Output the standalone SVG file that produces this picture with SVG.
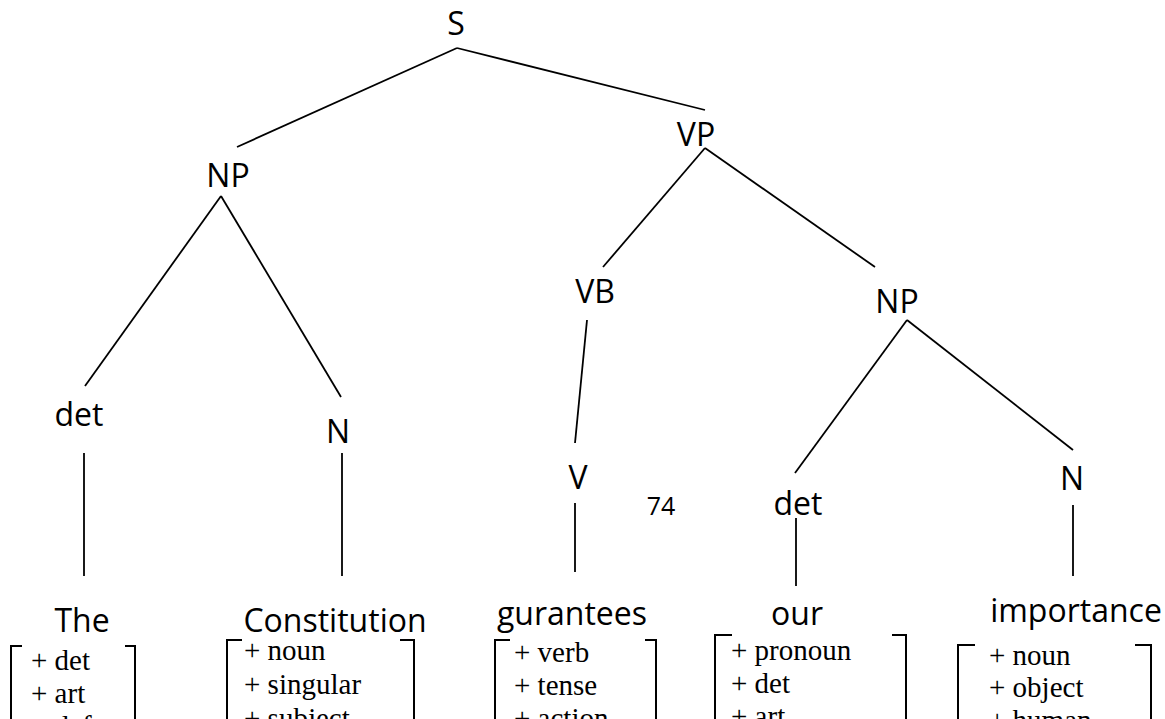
<svg xmlns="http://www.w3.org/2000/svg" width="1165" height="719" viewBox="0 0 1165 719">
  <style>
    .lbl { font-family: "Open Sans", "Noto Sans", sans-serif; font-size: 32px; fill: #000; text-anchor: middle; }
    .num { font-family: "Open Sans", "Noto Sans", sans-serif; font-size: 25px; fill: #000; text-anchor: middle; }
    .feat { font-family: "Liberation Serif", "Times New Roman", serif; font-size: 29px; fill: #000; }
    .edge { stroke: #000; stroke-width: 1.8; fill: none; }
    .brk { stroke: #000; stroke-width: 2; fill: none; }
  </style>
  <rect width="1165" height="719" fill="#fff"/>

  <!-- tree branches -->
  <g id="connectors">
    <line class="edge" x1="457" y1="48" x2="237" y2="147"/>
    <line class="edge" x1="457" y1="48" x2="705" y2="110"/>
    <line class="edge" x1="221" y1="196" x2="85" y2="386"/>
    <line class="edge" x1="221" y1="196" x2="341" y2="397"/>
    <line class="edge" x1="705" y1="148" x2="603" y2="267"/>
    <line class="edge" x1="705" y1="148" x2="875" y2="267"/>
    <line class="edge" x1="587" y1="320" x2="575" y2="443"/>
    <line class="edge" x1="907" y1="320" x2="795" y2="473"/>
    <line class="edge" x1="907" y1="320" x2="1073" y2="450"/>
    <line class="edge" x1="84" y1="453" x2="84" y2="576"/>
    <line class="edge" x1="342" y1="453" x2="342" y2="576"/>
    <line class="edge" x1="575" y1="503" x2="575" y2="572"/>
    <line class="edge" x1="796" y1="518" x2="796" y2="586"/>
    <line class="edge" x1="1073" y1="505" x2="1073" y2="576"/>
  </g>

  <!-- phrase and category nodes -->
  <g id="node-s"><text class="lbl" x="456" y="35">S</text></g>
  <g id="node-np1"><text class="lbl" x="228" y="187">NP</text></g>
  <g id="node-vp"><text class="lbl" x="696" y="146">VP</text></g>
  <g id="node-det1"><text class="lbl" x="79" y="426">det</text></g>
  <g id="node-n1"><text class="lbl" x="338" y="443">N</text></g>
  <g id="node-vb"><text class="lbl" x="595" y="303">VB</text></g>
  <g id="node-np2"><text class="lbl" x="897" y="313">NP</text></g>
  <g id="node-v"><text class="lbl" x="578" y="489">V</text></g>
  <g id="node-det2"><text class="lbl" x="798" y="515">det</text></g>
  <g id="node-n2"><text class="lbl" x="1072" y="490">N</text></g>
  <g id="page-number"><text class="num" x="661" y="515">74</text></g>

  <!-- words with feature matrices -->
  <g id="word-the">
    <text class="lbl" x="82" y="632">The</text>
    <path class="brk" d="M22 646 H11 V760"/>
    <path class="brk" d="M125 646 H135 V760"/>
    <text class="feat" x="31" y="670">+ det</text>
    <text class="feat" x="31" y="703">+ art</text>
    <text class="feat" x="31" y="736">+ def</text>
  </g>
  <g id="word-constitution">
    <text class="lbl" x="335" y="632">Constitution</text>
    <path class="brk" d="M242 640 H227 V760"/>
    <path class="brk" d="M400 640 H414 V760"/>
    <text class="feat" x="244" y="660">+ noun</text>
    <text class="feat" x="244" y="694">+ singular</text>
    <text class="feat" x="244" y="728">+ subject</text>
  </g>
  <g id="word-gurantees">
    <text class="lbl" x="572" y="625">gurantees</text>
    <path class="brk" d="M510 640 H495 V760"/>
    <path class="brk" d="M645 640 H656 V760"/>
    <text class="feat" x="514" y="662">+ verb</text>
    <text class="feat" x="514" y="695">+ tense</text>
    <text class="feat" x="514" y="728">+ action</text>
  </g>
  <g id="word-our">
    <text class="lbl" x="797" y="625">our</text>
    <path class="brk" d="M732 635 H715 V760"/>
    <path class="brk" d="M892 635 H906 V760"/>
    <text class="feat" x="731" y="660">+ pronoun</text>
    <text class="feat" x="731" y="693">+ det</text>
    <text class="feat" x="731" y="726">+ art</text>
  </g>
  <g id="word-importance">
    <text class="lbl" x="1076" y="622">importance</text>
    <path class="brk" d="M975 645 H958 V760"/>
    <path class="brk" d="M1135 645 H1151 V760"/>
    <text class="feat" x="989" y="665">+ noun</text>
    <text class="feat" x="989" y="697">+ object</text>
    <text class="feat" x="989" y="730">+ human</text>
  </g>
</svg>
